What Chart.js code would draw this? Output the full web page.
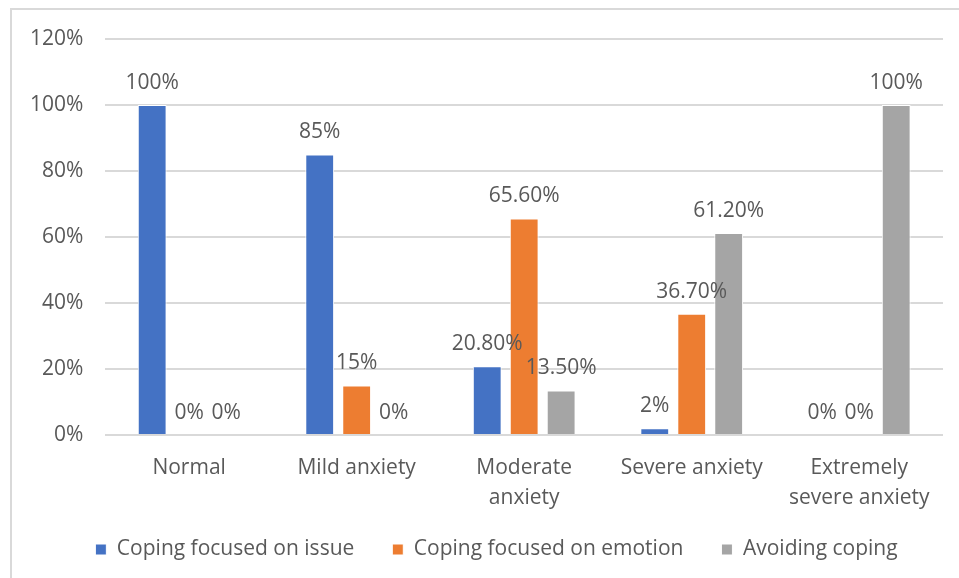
<!DOCTYPE html>
<html>
<head>
<meta charset="utf-8">
<script src="https://cdn.jsdelivr.net/npm/chart.js@4/dist/chart.umd.min.js"></script>
<style>
  html, body { margin: 0; padding: 0; background: #fff; }
  #wrap { position: relative; width: 959px; height: 578px; overflow: hidden; }
  #frame { position: absolute; left: 10px; top: 8px; width: 1000px; height: 700px; border-left: 2px solid #d9d9d9; border-top: 2px solid #d9d9d9; box-sizing: border-box; }
  canvas { position: absolute; left: 0; top: 0; }
</style>
</head>
<body>
<div id="wrap">
  <div id="frame"></div>
  <canvas id="c" width="959" height="578"></canvas>
</div>
<script>
const categories = ["Normal", "Mild anxiety", ["Moderate", "anxiety"], "Severe anxiety", ["Extremely", "severe anxiety"]];
const seriesNames = ["Coping focused on issue", "Coping focused on emotion", "Avoiding coping"];
const issueValues = [100, 85, 20.8, 2, 0];
const emotionValues = [0, 15, 65.6, 36.7, 0];
const avoidingValues = [0, 0, 13.5, 61.2, 100];
const yTicks = [0, 20, 40, 60, 80, 100, 120];

const FONT = "'Open Sans', 'DejaVu Sans', sans-serif";
const TEXT = "#595959";
const FS = 21;
const LEGEND_TRIM = 14;
const LEGEND_UP = 22;
const LEGEND_DX = 21;

function fmt(v) {
  return Number.isInteger(v) ? v + "%" : v.toFixed(2) + "%";
}

const labelPlugin = {
  id: "barLabels",
  afterDatasetsDraw(chart) {
    const ctx = chart.ctx;
    ctx.save();
    ctx.font = FS + "px " + FONT;
    ctx.fillStyle = TEXT;
    ctx.textAlign = "center";
    ctx.textBaseline = "middle";
    chart.data.datasets.forEach((ds, i) => {
      const meta = chart.getDatasetMeta(i);
      meta.data.forEach((el, j) => {
        ctx.fillText(fmt(ds.data[j]), el.x, el.y - 22);
      });
    });
    ctx.restore();
  }
};

const legendTweak = {
  id: "legendTweak",
  beforeLayout(chart) {
    const lg = chart.legend;
    if (lg && !lg.__wrapped) {
      const orig = lg.fit;
      lg.fit = function () { orig.call(this); this.height -= LEGEND_TRIM; };
      lg.__wrapped = true;
    }
  },
  afterLayout(chart) {
    const lg = chart.legend;
    if (!lg) return;
    lg.top -= LEGEND_UP;
    lg.height += LEGEND_UP;
    lg.left += LEGEND_DX; lg.right += LEGEND_DX;
  }
};

new Chart(document.getElementById("c"), {
  type: "bar",
  data: {
    labels: categories,
    datasets: [
      { label: seriesNames[0], data: issueValues, backgroundColor: "#4472C4", borderColor: "#ffffff", borderWidth: 1 },
      { label: seriesNames[1], data: emotionValues, backgroundColor: "#ED7D31", borderColor: "#ffffff", borderWidth: 1 },
      { label: seriesNames[2], data: avoidingValues, backgroundColor: "#A5A5A5", borderColor: "#ffffff", borderWidth: 1 }
    ]
  },
  options: {
    responsive: false,
    animation: false,
    devicePixelRatio: 1,
    layout: { padding: { left: 8, right: 16, top: 39, bottom: 0 } },
    datasets: { bar: { categoryPercentage: 0.662, barPercentage: 0.78 } },
    scales: {
      x: {
        grid: { display: false },
        border: { display: false },
        ticks: { color: TEXT, font: { family: FONT, size: FS, lineHeight: 1.43 }, padding: 10, maxRotation: 0, autoSkip: false }
      },
      y: {
        min: 0, max: 120,
        afterBuildTicks(scale) { scale.ticks = yTicks.map(v => ({ value: v })); },
        grid: { color: "#d9d9d9", lineWidth: 2, drawTicks: false },
        border: { display: false },
        ticks: { color: TEXT, font: { family: FONT, size: FS }, padding: 22, callback: v => v + "%" }
      }
    },
    plugins: {
      legend: {
        position: "bottom",
        labels: { color: TEXT, font: { family: FONT, size: FS }, boxWidth: 11, boxHeight: 11, padding: 38 }
      },
      tooltip: { enabled: false }
    }
  },
  plugins: [labelPlugin, legendTweak]
});
</script>
</body>
</html>
